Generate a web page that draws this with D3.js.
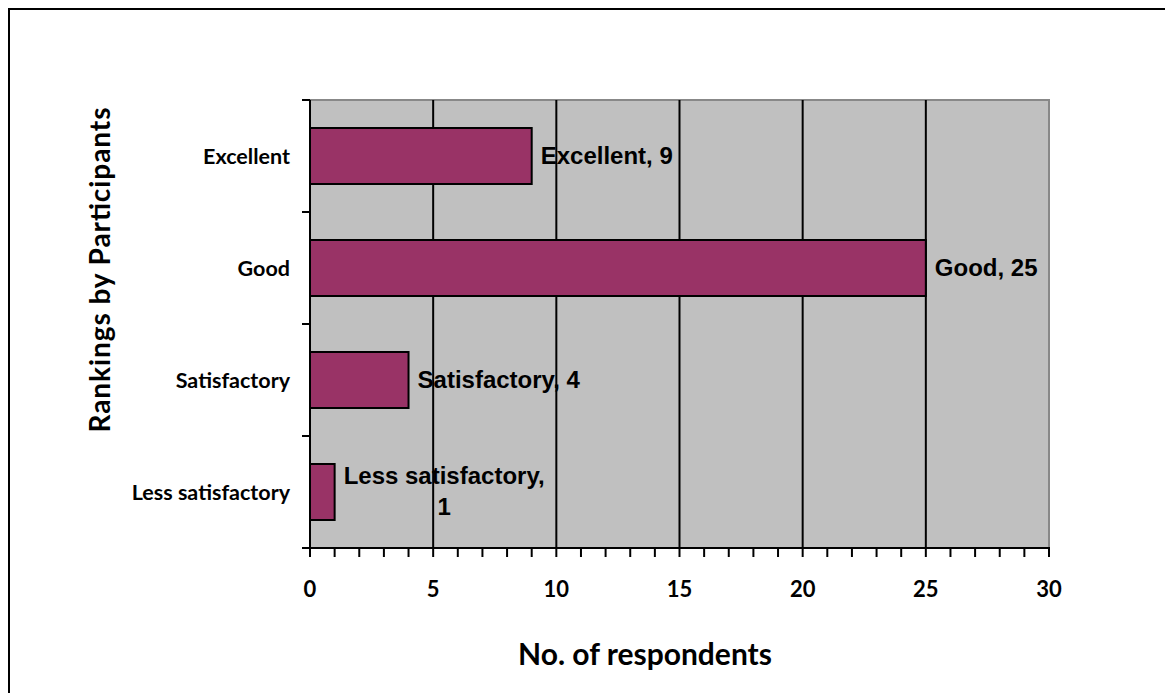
<!DOCTYPE html>
<html>
<head>
<meta charset="utf-8">
<script src="https://cdn.jsdelivr.net/npm/d3@7"></script>
<style>
  html, body { margin: 0; padding: 0; background: #fff; }
  svg { display: block; }
</style>
</head>
<body>
<svg id="chart" width="1165" height="693"></svg>
<script>
// Ratings given by participants, top-to-bottom order as shown on the axis
const categories = ["Excellent", "Good", "Satisfactory", "Less satisfactory"];
const respondents = [9, 25, 4, 1];
const xTicks = [0, 5, 10, 15, 20, 25, 30];
const xTitle = "No. of respondents";
const yTitle = "Rankings by Participants";

const svg = d3.select("#chart");
const W = 1165, H = 693;
const plot = { left: 310, right: 1049, top: 100, bottom: 548 };

const calibriLike = "Lato, 'Open Sans', sans-serif";
const arialLike = "'Liberation Sans', Arial, sans-serif";

// outer frame (only top and left edges fall inside the page)
svg.append("rect")
  .attr("x", 9).attr("y", 9)
  .attr("width", W + 20).attr("height", H + 20)
  .attr("fill", "none").attr("stroke", "#000").attr("stroke-width", 2);

const x = d3.scaleLinear().domain([0, 30]).range([plot.left, plot.right]);
const y = d3.scaleBand().domain(categories)
  .range([plot.top, plot.bottom])
  .paddingInner(0.5).paddingOuter(0.25);

// plot background
svg.append("rect")
  .attr("x", plot.left).attr("y", plot.top)
  .attr("width", plot.right - plot.left).attr("height", plot.bottom - plot.top)
  .attr("fill", "#C0C0C0");

// gray border on top and right of plot area
svg.append("path")
  .attr("d", `M${plot.left},${plot.top}H${plot.right}V${plot.bottom}`)
  .attr("fill", "none").attr("stroke", "#888").attr("stroke-width", 2);

// vertical gridlines at major ticks
svg.append("g").selectAll("line")
  .data(xTicks.filter(v => v > 0 && v < 30))
  .join("line")
  .attr("x1", d => x(d)).attr("x2", d => x(d))
  .attr("y1", plot.top).attr("y2", plot.bottom)
  .attr("stroke", "#000").attr("stroke-width", 2);

// bars
svg.append("g").selectAll("rect")
  .data(categories)
  .join("rect")
  .attr("x", x(0))
  .attr("y", d => y(d))
  .attr("width", (d, i) => x(respondents[i]) - x(0))
  .attr("height", y.bandwidth())
  .attr("fill", "#993366")
  .attr("stroke", "#000").attr("stroke-width", 2);

// x axis with minor ticks every unit
const xAxisG = svg.append("g").attr("transform", `translate(0,${plot.bottom})`);
xAxisG.append("line")
  .attr("x1", plot.left - 8).attr("x2", plot.right + 1)
  .attr("stroke", "#000").attr("stroke-width", 2);
xAxisG.selectAll("line.minor")
  .data(d3.range(0, 31))
  .join("line").attr("class", "minor")
  .attr("x1", d => x(d)).attr("x2", d => x(d))
  .attr("y1", 0).attr("y2", 9)
  .attr("stroke", "#000").attr("stroke-width", 2);
xAxisG.selectAll("text")
  .data(xTicks)
  .join("text")
  .attr("x", d => x(d)).attr("y", 49)
  .attr("text-anchor", "middle")
  .attr("font-family", calibriLike).attr("font-weight", "bold")
  .attr("font-size", 22)
  .text(d => d);

// y axis line and category boundary ticks
const yAxisG = svg.append("g");
yAxisG.append("line")
  .attr("x1", plot.left).attr("x2", plot.left)
  .attr("y1", plot.top).attr("y2", plot.bottom + 9)
  .attr("stroke", "#000").attr("stroke-width", 2);
const bounds = d3.range(0, categories.length + 1).map(i => plot.top + i * y.step());
yAxisG.selectAll("line.tick")
  .data(bounds)
  .join("line").attr("class", "tick")
  .attr("x1", plot.left - 8).attr("x2", plot.left)
  .attr("y1", d => d).attr("y2", d => d)
  .attr("stroke", "#000").attr("stroke-width", 2);
yAxisG.selectAll("text")
  .data(categories)
  .join("text")
  .attr("x", plot.left - 20)
  .attr("y", d => y(d) + y.bandwidth() / 2)
  .attr("dy", "0.35em")
  .attr("text-anchor", "end")
  .attr("font-family", calibriLike).attr("font-weight", "bold")
  .attr("font-size", 21.5)
  .text(d => d);

// data labels
const labelG = svg.append("g")
  .attr("font-family", arialLike).attr("font-weight", "bold")
  .attr("font-size", 24).attr("fill", "#000");
categories.forEach((c, i) => {
  const v = respondents[i];
  const cy = y(c) + y.bandwidth() / 2;
  const x0 = x(v) + 9;
  if (c === "Less satisfactory") {
    const t = labelG.append("text").attr("x", x0).attr("y", cy - 8);
    const l1 = t.append("tspan").attr("x", x0).text(c + ",");
    const w = l1.node().getComputedTextLength();
    t.append("tspan").attr("x", x0 + w / 2).attr("text-anchor", "middle")
      .attr("dy", 31).text(v);
  } else {
    labelG.append("text")
      .attr("x", x0).attr("y", cy).attr("dy", "0.35em")
      .text(`${c}, ${v}`);
  }
});

// axis titles
svg.append("text")
  .attr("x", 645).attr("y", 665)
  .attr("text-anchor", "middle")
  .attr("font-family", calibriLike).attr("font-weight", "bold")
  .attr("font-size", 30)
  .text(xTitle);

svg.append("text")
  .attr("transform", "translate(110,270) rotate(-90)")
  .attr("text-anchor", "middle")
  .attr("font-family", calibriLike).attr("font-weight", "bold")
  .attr("font-size", 28)
  .attr("textLength", 325).attr("lengthAdjust", "spacing")
  .text(yTitle);
</script>
</body>
</html>
